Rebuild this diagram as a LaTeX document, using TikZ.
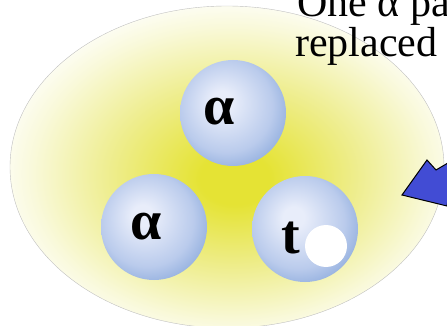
\documentclass[tikz,border=0pt]{standalone}
\usepackage{fontspec}
\setmainfont{Liberation Serif}
\definecolor{ycore}{RGB}{229,227,52}
\definecolor{ymid}{RGB}{238,237,140}
\definecolor{ypale}{RGB}{249,249,218}
\definecolor{bhl}{RGB}{232,237,250}
\definecolor{bmid}{RGB}{186,203,236}
\definecolor{bedge}{RGB}{128,162,216}
\definecolor{arrowblue}{RGB}{66,76,212}
\pgfdeclareradialshading{cloudsh}{\pgfpoint{1bp}{-2bp}}{color(0bp)=(ycore); color(4bp)=(ycore); color(14bp)=(ymid); color(23bp)=(ypale); color(28bp)=(white); color(50bp)=(white)}
\pgfdeclareradialshading{ballsh}{\pgfpoint{-6bp}{6bp}}{color(0bp)=(bhl); color(5bp)=(bhl); color(22bp)=(bmid); color(34bp)=(bedge); color(50bp)=(bedge)}
\tikzset{
  ball/.style={circle, inner sep=0pt, minimum size=106pt, shading=ballsh},
  lbl/.style={inner sep=0pt, font=\fontsize{56}{56}\selectfont\bfseries},
  caption/.style={anchor=base west, inner sep=0pt, font=\fontsize{42}{42}\selectfont},
}
\begin{document}
\begin{tikzpicture}[x=1pt,y=-1pt]
\useasboundingbox (0,0) rectangle (447,326);
\clip (0,0) rectangle (447,326);
\shade[shading=cloudsh, draw=black!25, line width=0.4pt] (227,167) ellipse [x radius=217, y radius=161];
\node[ball] (b1) at (233,113) {};
\node[ball] (b2) at (154,227) {};
\node[ball] (b3) at (305,229) {};
\node[lbl] (t1) at (219,112) {α};
\node[lbl] (t2) at (146,227) {α};
\node[lbl, anchor=base] (t3) at (291,253) {t};
\node[circle, fill=white, inner sep=0pt, minimum size=42pt] (h) at (326,246) {};
\draw[fill=arrowblue, line width=1pt, line join=miter] (402,195) -- (427,160) -- (436,170) -- (470,150) -- (485,180) -- (449,193) -- (447,206) -- cycle;
\node[caption] (c1) at (297,17) {One α pa};
\node[caption] (c2) at (295,57) {replaced};
\end{tikzpicture}
\end{document}
